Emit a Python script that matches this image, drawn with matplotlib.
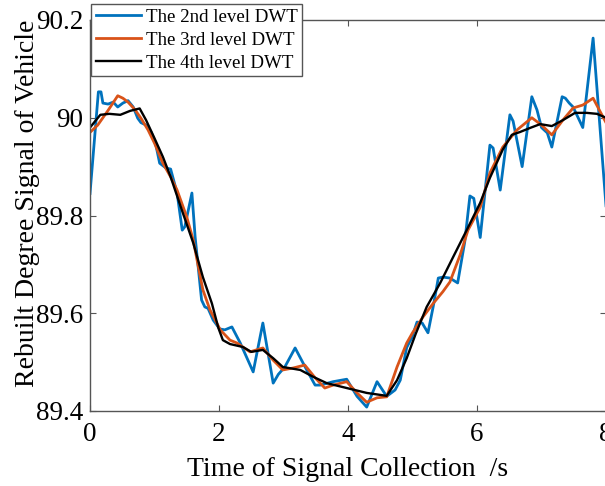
import matplotlib
matplotlib.use("Agg")
import matplotlib.pyplot as plt

plt.rcParams["font.family"] = ["Liberation Serif", "DejaVu Serif"]

# === Data ===
t_2nd = [0.00, 0.13, 0.17, 0.20, 0.28, 0.36, 0.43, 0.51, 0.59, 0.67, 0.74, 0.79,
         0.87, 0.95, 1.02, 1.08, 1.18, 1.25, 1.35, 1.43, 1.47, 1.58, 1.63, 1.73,
         1.78, 1.83, 1.91, 2.01, 2.09, 2.20, 2.33, 2.53, 2.68, 2.84, 2.92, 3.02,
         3.18, 3.36, 3.49, 3.57, 3.77, 3.98, 4.14, 4.29, 4.45, 4.60, 4.73, 4.81,
         4.91, 4.99, 5.07, 5.15, 5.24, 5.32, 5.40, 5.47, 5.58, 5.70, 5.81, 5.89,
         5.95, 6.05, 6.20, 6.25, 6.36, 6.51, 6.56, 6.70, 6.85, 6.93, 7.00, 7.09,
         7.16, 7.32, 7.37, 7.43, 7.49, 7.64, 7.80, 8.00]
v_2nd = [89.845, 90.053, 90.053, 90.030, 90.028, 90.032, 90.022, 90.030, 90.035,
         90.022, 89.999, 89.990, 89.985, 89.970, 89.945, 89.907, 89.897, 89.895,
         89.846, 89.770, 89.777, 89.846, 89.756, 89.627, 89.613, 89.610, 89.586,
         89.568, 89.566, 89.572, 89.539, 89.480, 89.580, 89.457, 89.475, 89.490,
         89.529, 89.484, 89.453, 89.453, 89.460, 89.465, 89.430, 89.408, 89.460,
         89.430, 89.443, 89.463, 89.530, 89.550, 89.582, 89.580, 89.560, 89.613,
         89.672, 89.674, 89.672, 89.662, 89.746, 89.840, 89.835, 89.755, 89.944,
         89.938, 89.852, 90.006, 89.993, 89.900, 90.043, 90.016, 89.980, 89.969,
         89.940, 90.043, 90.040, 90.030, 90.022, 89.980, 90.163, 89.820]

t_3rd = [0.00, 0.12, 0.28, 0.43, 0.51, 0.59, 0.70, 0.79, 0.90, 1.00, 1.13, 1.25,
         1.35, 1.50, 1.60, 1.68, 1.75, 1.86, 2.02, 2.17, 2.28, 2.48, 2.68, 2.84,
         2.99, 3.15, 3.33, 3.49, 3.64, 3.77, 3.98, 4.14, 4.29, 4.45, 4.60, 4.76,
         4.91, 5.00, 5.16, 5.32, 5.47, 5.58, 5.74, 5.86, 6.05, 6.20, 6.40, 6.62,
         6.85, 7.00, 7.16, 7.33, 7.49, 7.64, 7.80, 8.00]
v_3rd = [89.970, 89.985, 90.015, 90.045, 90.040, 90.032, 90.016, 89.999, 89.975,
         89.948, 89.907, 89.879, 89.852, 89.797, 89.750, 89.695, 89.648, 89.607,
         89.566, 89.545, 89.539, 89.521, 89.529, 89.504, 89.484, 89.488, 89.494,
         89.468, 89.447, 89.453, 89.460, 89.437, 89.418, 89.427, 89.429, 89.490,
         89.539, 89.560, 89.592, 89.620, 89.644, 89.664, 89.720, 89.770, 89.817,
         89.887, 89.940, 89.975, 90.000, 89.985, 89.965, 89.995, 90.020, 90.026,
         90.040, 89.990]

t_4th = [0.00, 0.16, 0.30, 0.47, 0.62, 0.77, 0.87, 1.00, 1.13, 1.25, 1.44, 1.60,
         1.75, 1.89, 1.99, 2.06, 2.17, 2.37, 2.50, 2.68, 2.84, 2.99, 3.26, 3.46,
         3.67, 3.98, 4.29, 4.60, 4.76, 4.91, 5.05, 5.22, 5.43, 5.63, 5.84, 6.05,
         6.20, 6.40, 6.54, 6.67, 6.82, 6.98, 7.16, 7.33, 7.52, 7.70, 7.86, 8.00]
v_4th = [89.980, 90.006, 90.008, 90.006, 90.014, 90.019, 89.995, 89.958, 89.920,
         89.879, 89.805, 89.744, 89.674, 89.620, 89.570, 89.545, 89.537, 89.531,
         89.521, 89.525, 89.508, 89.490, 89.484, 89.470, 89.457, 89.447, 89.437,
         89.431, 89.463, 89.508, 89.558, 89.613, 89.662, 89.715, 89.770, 89.826,
         89.877, 89.935, 89.965, 89.971, 89.979, 89.987, 89.983, 89.995, 90.010,
         90.010, 90.008, 90.000]

labels = ["The 2nd level DWT", "The 3rd level DWT", "The 4th level DWT"]
x_ticks = [0, 2, 4, 6, 8]
y_ticks = [89.4, 89.6, 89.8, 90.0, 90.2]
y_ticklabels = ["89.4", "89.6", "89.8", "90", "90.2"]

# === Plot ===
fig = plt.figure(figsize=(6.05, 4.86), dpi=100)
ax = fig.add_axes([90 / 605, 75 / 486, 516 / 605, 391 / 486])

ax.plot(t_2nd, v_2nd, color="#0072BD", lw=2.0, label=labels[0])
ax.plot(t_3rd, v_3rd, color="#D95319", lw=2.0, label=labels[1])
ax.plot(t_4th, v_4th, color="black", lw=1.7, label=labels[2])

ax.set_xlim(0, 8)
ax.set_ylim(89.4, 90.2)
ax.set_xticks(x_ticks)
ax.set_yticks(y_ticks)
ax.set_yticklabels(y_ticklabels)

spine_col = "#555555"
for s in ax.spines.values():
    s.set_color(spine_col)
    s.set_linewidth(1.0)
ax.tick_params(direction="in", length=4, width=0.8, color=spine_col,
               top=True, right=True, labelsize=19.5, labelcolor="black")
ax.tick_params(axis="x", pad=8)
ax.tick_params(axis="y", pad=5)

ax.set_xlabel("Time of Signal Collection  /s", fontsize=20, labelpad=7)
fig.text(28 / 605, 1 - 203 / 486, "Rebuilt Degree Signal of Vehicle",
         rotation=90, ha="center", va="center", fontsize=20)

leg = ax.legend(loc="upper left", bbox_to_anchor=(0.002, 1.041),
                borderaxespad=0, fontsize=13.6, handlelength=2.4,
                handletextpad=0.25, labelspacing=0.3, borderpad=0.25,
                fancybox=False, framealpha=1)
leg.get_frame().set_edgecolor("#555555")
leg.get_frame().set_linewidth(1.0)

fig.savefig("out.png", dpi=100)
